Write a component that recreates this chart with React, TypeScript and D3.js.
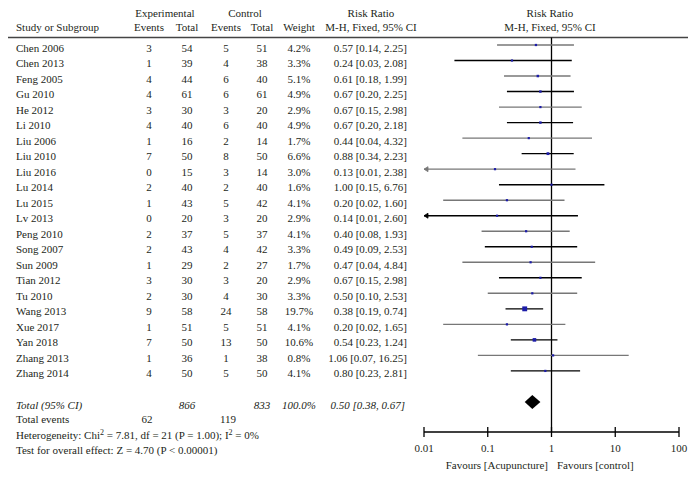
import React from "react";
import * as d3 from "d3";

const studies = ["Chen 2006","Chen 2013","Feng 2005","Gu 2010","He 2012","Li 2010","Liu 2006","Liu 2010","Liu 2016","Lu 2014","Lu 2015","Lv 2013","Peng 2010","Song 2007","Sun 2009","Tian 2012","Tu 2010","Wang 2013","Xue 2017","Yan 2018","Zhang 2013","Zhang 2014"];
const expEvents = [3,1,4,4,3,4,1,7,0,2,1,0,2,2,1,3,2,9,1,7,1,4];
const expTotal = [54,39,44,61,30,40,16,50,15,40,43,20,37,43,29,30,30,58,51,50,36,50];
const ctrlEvents = [5,4,6,6,3,6,2,8,3,2,5,3,5,4,2,3,4,24,5,13,1,5];
const ctrlTotal = [51,38,40,61,20,40,14,50,14,40,42,20,37,42,27,20,30,58,51,50,38,50];
const weights = [4.2,3.3,5.1,4.9,2.9,4.9,1.7,6.6,3.0,1.6,4.1,2.9,4.1,3.3,1.7,2.9,3.3,19.7,4.1,10.6,0.8,4.1];
const rr = [0.57,0.24,0.61,0.67,0.67,0.67,0.44,0.88,0.13,1.00,0.20,0.14,0.40,0.49,0.47,0.67,0.50,0.38,0.20,0.54,1.06,0.80];
const lo = [0.14,0.03,0.18,0.20,0.15,0.20,0.04,0.34,0.01,0.15,0.02,0.01,0.08,0.09,0.04,0.15,0.10,0.19,0.02,0.23,0.07,0.23];
const hi = [2.25,2.08,1.99,2.25,2.98,2.18,4.32,2.23,2.38,6.76,1.60,2.60,1.93,2.53,4.84,2.98,2.53,0.74,1.65,1.24,16.25,2.81];
const total = { exp: 866, ctrl: 833, weight: "100.0%", rr: 0.50, lo: 0.38, hi: 0.67, expEv: 62, ctrlEv: 119 };
const axisTicks = [0.01, 0.1, 1, 10, 100];
const tickLabels = ["0.01", "0.1", "1", "10", "100"];

const FONT = "'Liberation Serif', 'Times New Roman', serif";
const TXT = "#231f20";

export default function App() {
  const x = d3.scaleLog().domain([0.01, 100]).range([424, 679]);
  const rowY = (i: number) => 45 + i * 15.52;
  const totalY = 402;
  const axisY = 432;
  const f2 = d3.format(".2f");
  const cols = { study: 16, ev1: 149, tot1: 187, ev2: 226, tot2: 262, w: 299, rr: 407 };
  const dy = 6.5;

  return (
    <svg width={695} height={478} style={{ position: "absolute", left: 0, top: 0, background: "#fff" }}
      fontFamily={FONT} fontSize={11} fill={TXT}>
      {/* headers */}
      <text x={165} y={16.5} textAnchor="middle">Experimental</text>
      <text x={245} y={16.5} textAnchor="middle">Control</text>
      <text x={371} y={16.5} textAnchor="middle">Risk Ratio</text>
      <text x={550} y={16.5} textAnchor="middle">Risk Ratio</text>
      <text x={cols.study} y={31}>Study or Subgroup</text>
      <text x={cols.ev1} y={31} textAnchor="middle">Events</text>
      <text x={cols.tot1} y={31} textAnchor="middle">Total</text>
      <text x={cols.ev2} y={31} textAnchor="middle">Events</text>
      <text x={cols.tot2} y={31} textAnchor="middle">Total</text>
      <text x={cols.w} y={31} textAnchor="middle">Weight</text>
      <text x={371} y={31} textAnchor="middle">M-H, Fixed, 95% CI</text>
      <text x={550} y={31} textAnchor="middle">M-H, Fixed, 95% CI</text>
      <line x1={8} x2={688} y1={37.5} y2={37.5} stroke="#444" strokeWidth={1.3} />

      {/* null line */}
      <line x1={x(1)} x2={x(1)} y1={37.5} y2={axisY} stroke="#000" strokeWidth={1.3} />

      {studies.map((s, i) => {
        const y = rowY(i);
        const col = i % 2 === 0 ? "#777" : "#000";
        const clipped = lo[i] <= 0.01;
        const x1 = clipped ? x(0.01) : x(lo[i]);
        const sz = Math.max(2.2, 1.1 * Math.sqrt(weights[i]));
        return (
          <g key={s}>
            <text x={cols.study} y={y + dy}>{s}</text>
            <text x={cols.ev1} y={y + dy} textAnchor="middle">{expEvents[i]}</text>
            <text x={cols.tot1} y={y + dy} textAnchor="middle">{expTotal[i]}</text>
            <text x={cols.ev2} y={y + dy} textAnchor="middle">{ctrlEvents[i]}</text>
            <text x={cols.tot2} y={y + dy} textAnchor="middle">{ctrlTotal[i]}</text>
            <text x={cols.w} y={y + dy} textAnchor="middle">{weights[i].toFixed(1)}%</text>
            <text x={cols.rr} y={y + dy} textAnchor="end">{`${f2(rr[i])} [${f2(lo[i])}, ${f2(hi[i])}]`}</text>
            <line x1={x1} x2={x(hi[i])} y1={y} y2={y} stroke={col} strokeWidth={1.4} />
            {clipped && (
              <path d={`M${x1},${y} l4,-2.5 l0,5 z`} fill={col} stroke={col} strokeWidth={0.8} />
            )}
            <rect x={x(rr[i]) - sz / 2} y={y - sz / 2} width={sz} height={sz} fill="#1c1ca8" />
          </g>
        );
      })}

      {/* total row */}
      <g fontStyle="italic">
        <text x={cols.study} y={totalY + dy}>Total (95% CI)</text>
        <text x={cols.tot1} y={totalY + dy} textAnchor="middle">{total.exp}</text>
        <text x={cols.tot2} y={totalY + dy} textAnchor="middle">{total.ctrl}</text>
        <text x={cols.w} y={totalY + dy} textAnchor="middle">{total.weight}</text>
        <text x={cols.rr - 2} y={totalY + dy} textAnchor="end">{`${f2(total.rr)} [${f2(total.lo)}, ${f2(total.hi)}]`}</text>
      </g>
      <path d={`M${x(total.lo)},${totalY} L${x(total.rr)},${totalY - 7} L${x(total.hi)},${totalY} L${x(total.rr)},${totalY + 7} Z`} fill="#000" />

      <text x={cols.study} y={423}>Total events</text>
      <text x={147} y={423} textAnchor="middle">{total.expEv}</text>
      <text x={228} y={423} textAnchor="middle">{total.ctrlEv}</text>
      <text x={cols.study} y={439}>
        Heterogeneity: Chi<tspan dy={-4} fontSize={8}>2</tspan><tspan dy={4}> = 7.81, df = 21 (P = 1.00); I</tspan><tspan dy={-4} fontSize={8}>2</tspan><tspan dy={4}> = 0%</tspan>
      </text>
      <text x={cols.study} y={454}>Test for overall effect: Z = 4.70 (P &lt; 0.00001)</text>

      {/* axis */}
      <line x1={x(0.01)} x2={x(100)} y1={axisY} y2={axisY} stroke="#000" strokeWidth={1.3} />
      {axisTicks.map((t, i) => (
        <g key={t}>
          <line x1={x(t)} x2={x(t)} y1={axisY - 5} y2={axisY + 5} stroke="#000" strokeWidth={1.3} />
          <text x={x(t)} y={axisY + 20} textAnchor="middle">{tickLabels[i]}</text>
        </g>
      ))}
      <text x={548} y={469} textAnchor="end">Favours [Acupuncture]</text>
      <text x={557} y={469}>Favours [control]</text>
    </svg>
  );
}
